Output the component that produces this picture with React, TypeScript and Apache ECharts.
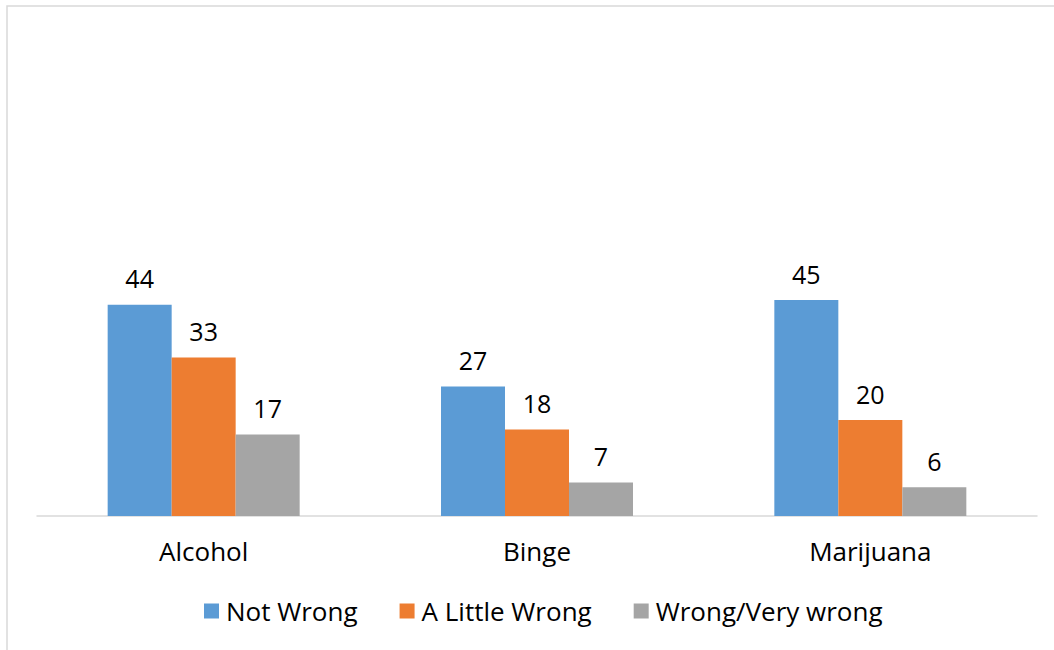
import React, { useEffect, useRef } from "react";
import * as echarts from "echarts";

const categories = ["Alcohol", "Binge", "Marijuana"];
const notWrong = [44, 27, 45];
const aLittleWrong = [33, 18, 20];
const wrongVeryWrong = [17, 7, 6];
const seriesNames = ["Not Wrong", "A Little Wrong", "Wrong/Very wrong"];
const colors = ["#5B9BD5", "#ED7D31", "#A5A5A5"];

const FONT = "Open Sans";

export default function App() {
  const ref = useRef<HTMLDivElement>(null);
  useEffect(() => {
    if (!ref.current) return;
    const chart = echarts.init(ref.current, null, { renderer: "svg" });
    const mk = (name: string, data: number[], color: string) => ({
      name,
      type: "bar",
      data,
      barWidth: 64,
      barGap: "0%",
      itemStyle: { color },
      label: {
        show: true,
        position: "top",
        distance: 14,
        color: "#000",
        fontSize: 25,
        fontFamily: FONT,
      },
    });
    chart.setOption({
      animation: false,
      backgroundColor: "#fff",
      graphic: [
        {
          type: "rect",
          shape: { x: 7, y: 6, width: 1200, height: 800 },
          style: { fill: "none", stroke: "#d9d9d9", lineWidth: 1.5 },
          silent: true,
        },
      ],
      grid: { left: 37, right: 17, top: 36, bottom: 134, containLabel: false },
      xAxis: {
        type: "category",
        data: categories,
        axisLine: { show: true, lineStyle: { color: "#d9d9d9", width: 1.5 } },
        axisTick: { show: false },
        axisLabel: { color: "#000", fontSize: 26, fontFamily: FONT, margin: 22 },
      },
      yAxis: {
        type: "value",
        min: 0,
        max: 100,
        show: false,
        splitLine: { show: false },
      },
      legend: {
        bottom: 21,
        left: 199,
        itemWidth: 15,
        itemHeight: 15,
        itemGap: 42,
        icon: "rect",
        textStyle: { color: "#000", fontSize: 26, fontFamily: FONT, padding: [0, 0, 0, 2] },
        data: seriesNames,
      },
      series: [
        mk(seriesNames[0], notWrong, colors[0]),
        mk(seriesNames[1], aLittleWrong, colors[1]),
        mk(seriesNames[2], wrongVeryWrong, colors[2]),
      ],
    });
    return () => chart.dispose();
  }, []);
  return (
    <div
      ref={ref}
      style={{ position: "fixed", left: 0, top: 0, width: 1054, height: 650 }}
    />
  );
}
